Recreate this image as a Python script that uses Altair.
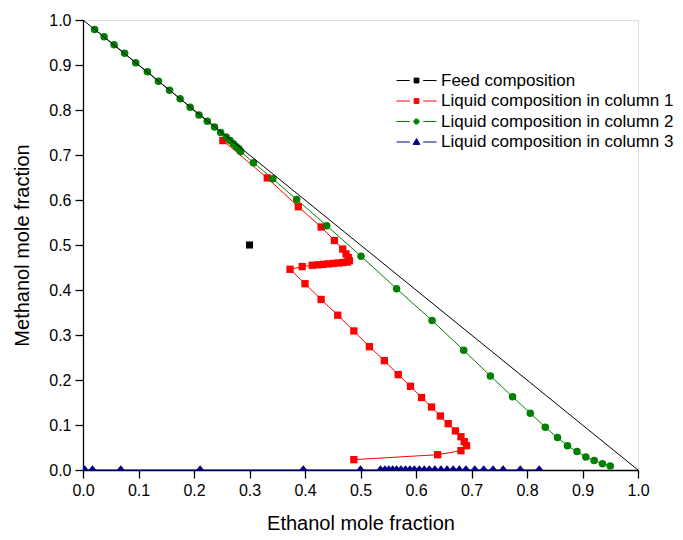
import altair as alt
import pandas as pd

# ---------------- data ----------------
series_names = [
    "Feed composition",
    "Liquid composition in column 1",
    "Liquid composition in column 2",
    "Liquid composition in column 3",
]
series_colors = ["#000000", "#FF0000", "#008000", "#000090"]
# triangle drawn with its base on the data point (sits on the axis line)
series_shapes = ["square", "square", "circle", "M-1,0L0,-1.25L1,0Z"]
series_sizes = [50, 60, 95, 70]

feed_x = [0.30]
feed_y = [0.50]

col1_x = [0.252, 0.332, 0.388, 0.429, 0.453, 0.468, 0.474, 0.478, 0.480, 0.476,
          0.468, 0.460, 0.451, 0.442, 0.433, 0.424, 0.413, 0.395, 0.373, 0.400,
          0.429, 0.459, 0.488, 0.516, 0.543, 0.568, 0.590, 0.610, 0.628, 0.644,
          0.658, 0.671, 0.681, 0.687, 0.691, 0.681, 0.639, 0.488]
col1_y = [0.732, 0.649, 0.585, 0.540, 0.510, 0.491, 0.480, 0.472, 0.465, 0.462,
          0.461, 0.460, 0.459, 0.458, 0.457, 0.456, 0.455, 0.452, 0.446, 0.414,
          0.379, 0.344, 0.309, 0.274, 0.243, 0.212, 0.186, 0.161, 0.140, 0.120,
          0.103, 0.087, 0.074, 0.063, 0.054, 0.043, 0.034, 0.023]

col2_x = [0.021, 0.038, 0.056, 0.075, 0.095, 0.116, 0.136, 0.156, 0.175, 0.193,
          0.209, 0.224, 0.237, 0.248, 0.258, 0.265, 0.271, 0.276, 0.281, 0.284,
          0.307, 0.342, 0.385, 0.439, 0.501, 0.565, 0.629, 0.686, 0.734, 0.774,
          0.806, 0.833, 0.855, 0.873, 0.890, 0.906, 0.921, 0.936, 0.950]
col2_y = [0.979, 0.963, 0.945, 0.926, 0.905, 0.885, 0.864, 0.844, 0.825, 0.806,
          0.789, 0.775, 0.762, 0.750, 0.740, 0.732, 0.725, 0.719, 0.714, 0.708,
          0.683, 0.647, 0.601, 0.543, 0.475, 0.403, 0.332, 0.266, 0.209, 0.163,
          0.126, 0.095, 0.072, 0.054, 0.041, 0.029, 0.021, 0.014, 0.009]

col3_x = [0.003, 0.017, 0.068, 0.211, 0.397, 0.500, 0.536, 0.544, 0.551, 0.558,
          0.565, 0.573, 0.581, 0.589, 0.597, 0.606, 0.615, 0.624, 0.634, 0.645,
          0.656, 0.667, 0.678, 0.690, 0.706, 0.722, 0.739, 0.757, 0.788, 0.822]
col3_y = [0.0] * len(col3_x)

boundary_x = [0.0, 1.0]
boundary_y = [1.0, 0.0]

all_tick_values = [0.0, 0.05, 0.1, 0.15, 0.2, 0.25, 0.3, 0.35, 0.4, 0.45, 0.5,
                   0.55, 0.6, 0.65, 0.7, 0.75, 0.8, 0.85, 0.9, 0.95, 1.0]

# ---------------- tables ----------------
rows = []
for name, xs_, ys_ in zip(series_names,
                          [feed_x, col1_x, col2_x, col3_x],
                          [feed_y, col1_y, col2_y, col3_y]):
    for i, (xv, yv) in enumerate(zip(xs_, ys_)):
        rows.append({"x": xv, "y": yv, "series": name, "idx": i})
df = pd.DataFrame(rows)
df_boundary = pd.DataFrame({"x": boundary_x, "y": boundary_y, "idx": [0, 1]})
df_legend = pd.DataFrame({"series": series_names})

FONT = "Liberation Sans"

line_seg = "M-2,0L-0.67,0M0.67,0L2,0"
legend_paths = [
    line_seg + "M-0.24,-0.24L0.24,-0.24L0.24,0.24L-0.24,0.24Z",
    line_seg + "M-0.24,-0.24L0.24,-0.24L0.24,0.24L-0.24,0.24Z",
    line_seg + "M0.26,0A0.26,0.26 0 1,1 -0.26,0A0.26,0.26 0 1,1 0.26,0Z",
    line_seg + "M0,-0.34L0.34,0.24L-0.34,0.24Z",
]

is_major = "abs(datum.value*10 - round(datum.value*10)) < 0.001"

common_axis = dict(
    values=all_tick_values,
    labelExpr=f"{is_major} ? format(datum.value, '.1f') : ''",
    tickSize={"condition": {"test": is_major, "value": 8}, "value": 4},
    grid=False, domainColor="black", tickColor="black", domainWidth=1.3,
    tickWidth=1.3, labelColor="black", titleColor="black",
    labelFont=FONT, titleFont=FONT, labelFontSize=16, titleFontSize=20,
    titleFontWeight="normal", labelPadding=4,
    labelFlush=False, labelOverlap=False,
)
x_axis = alt.Axis(title="Ethanol mole fraction", titlePadding=15, **common_axis)
y_axis = alt.Axis(title="Methanol mole fraction", titlePadding=16, **common_axis)

xs = alt.Scale(domain=[0, 1], nice=False, zero=False)
ys = alt.Scale(domain=[0, 1], nice=False, zero=False)
color_scale = alt.Scale(domain=series_names, range=series_colors)

lines = alt.Chart(df).mark_line(strokeWidth=1).encode(
    x=alt.X("x:Q", scale=xs, axis=x_axis),
    y=alt.Y("y:Q", scale=ys, axis=y_axis),
    color=alt.Color("series:N", scale=color_scale, legend=None),
    detail="series:N",
    order="idx:Q",
)

points = alt.Chart(df).mark_point(filled=True, opacity=1, strokeWidth=0, clip=True).encode(
    x=alt.X("x:Q", scale=xs),
    y=alt.Y("y:Q", scale=ys),
    color=alt.Color("series:N", scale=color_scale, legend=None),
    shape=alt.Shape("series:N", scale=alt.Scale(domain=series_names, range=series_shapes), legend=None),
    size=alt.Size("series:N", scale=alt.Scale(domain=series_names, range=series_sizes), legend=None),
)

boundary = alt.Chart(df_boundary).mark_line(color="black", strokeWidth=1).encode(
    x=alt.X("x:Q", scale=xs),
    y=alt.Y("y:Q", scale=ys),
    order="idx:Q",
)

leg = alt.Legend(
    title=None, orient="none", legendX=313, legendY=50, padding=0,
    symbolSize=400, symbolStrokeWidth=1, symbolOpacity=1, symbolOffset=10,
    labelFont=FONT, labelFontSize=17, labelColor="black", labelLimit=400,
    labelOffset=14, rowPadding=1.5,
)
legend_layer = alt.Chart(df_legend).mark_point(filled=True, opacity=0).encode(
    fill=alt.Fill("series:N", scale=alt.Scale(domain=series_names, range=series_colors), legend=leg),
    stroke=alt.Stroke("series:N", scale=alt.Scale(domain=series_names, range=series_colors), legend=leg),
    shape=alt.Shape("series:N", scale=alt.Scale(domain=series_names, range=legend_paths), legend=leg),
)

chart = alt.layer(lines, points, boundary, legend_layer).resolve_scale(
    shape="independent", fill="independent", stroke="independent", color="independent"
).properties(
    width=555, height=450,
    autosize=alt.AutoSizeParams(type="none"),
    padding={"left": 83, "top": 20, "right": 45, "bottom": 70},
).configure_view(stroke=None).configure(background="white")

chart.save("out.html", embed_options={"renderer": "svg", "actions": False})
